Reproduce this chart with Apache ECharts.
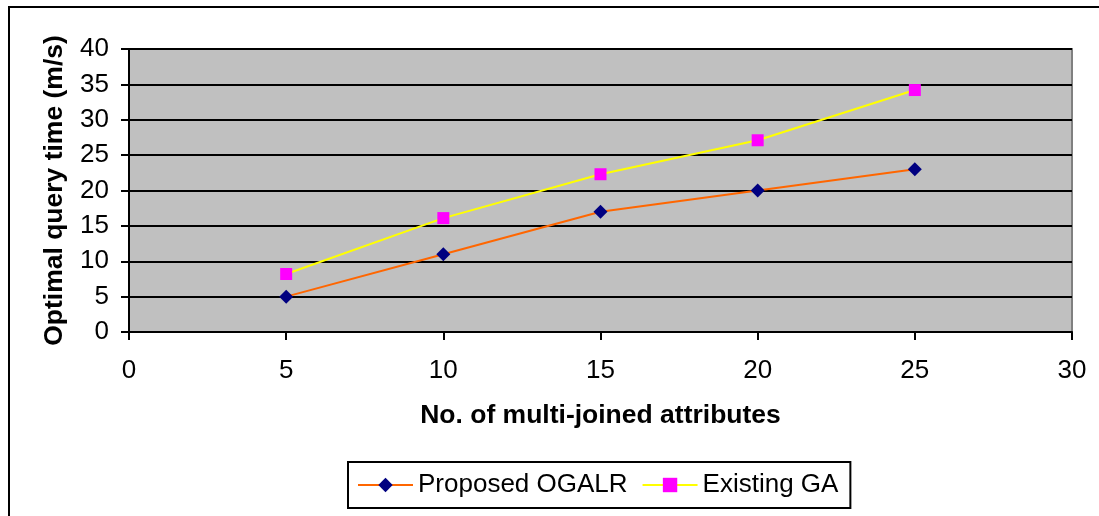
<!DOCTYPE html>
<html>
<head>
<meta charset="utf-8">
<script src="https://cdn.jsdelivr.net/npm/echarts@6/dist/echarts.min.js"></script>
<style>
  html, body { margin: 0; padding: 0; background: #ffffff; }
  #chart { width: 1099px; height: 516px; }
</style>
</head>
<body>
<div id="chart"></div>
<script>
// Number of multi-joined attributes (x values)
const attributes = [5, 10, 15, 20, 25];
// Optimal query time (m/s) per method
const proposedOGALR = [5, 11, 17, 20, 23];
const existingGA = [8.2, 16.1, 22.3, 27.1, 34.2];

const seriesNames = ['Proposed OGALR', 'Existing GA'];
const xAxisTitle = 'No. of multi-joined attributes';
const yAxisTitle = 'Optimal query time (m/s)';

const font = "'Liberation Sans', Arial, sans-serif";

const chart = echarts.init(document.getElementById('chart'), null, { renderer: 'canvas' });

const pairs = (xs, ys) => xs.map((x, i) => [x, ys[i]]);

chart.setOption({
  animation: false,
  backgroundColor: '#ffffff',
  textStyle: { fontFamily: font },
  graphic: [{
    type: 'rect',
    shape: { x: 9, y: 7, width: 1200, height: 600 },
    style: { fill: 'none', stroke: '#000000', lineWidth: 2 },
    silent: true
  }],
  grid: {
    left: 129, right: 27, top: 49, bottom: 184,
    show: true,
    backgroundColor: '#C0C0C0',
    borderColor: '#808080',
    borderWidth: 2
  },
  xAxis: {
    type: 'value',
    min: 0, max: 30, interval: 5,
    name: xAxisTitle,
    nameLocation: 'middle',
    nameGap: 70,
    nameTextStyle: { fontFamily: font, fontSize: 26.5, fontWeight: 'bold', color: '#000000' },
    axisLine: { show: true, onZero: false, lineStyle: { color: '#000000', width: 2 } },
    axisTick: { show: true, inside: false, length: 8, lineStyle: { color: '#000000', width: 2 } },
    axisLabel: { fontFamily: font, fontSize: 26, color: '#000000', margin: 26 },
    splitLine: { show: false }
  },
  yAxis: {
    type: 'value',
    min: 0, max: 40, interval: 5,
    name: yAxisTitle,
    nameLocation: 'middle',
    nameGap: 61,
    nameRotate: 90,
    nameTextStyle: { fontFamily: font, fontSize: 26.5, fontWeight: 'bold', color: '#000000' },
    axisLine: { show: true, lineStyle: { color: '#000000', width: 2 } },
    axisTick: { show: true, inside: false, length: 8, lineStyle: { color: '#000000', width: 2 } },
    axisLabel: { fontFamily: font, fontSize: 26, color: '#000000', margin: 20 },
    splitLine: { show: true, lineStyle: { color: '#000000', width: 2 } }
  },
  legend: {
    left: 348,
    top: 462,
    orient: 'horizontal',
    data: seriesNames,
    borderColor: '#000000',
    borderWidth: 2,
    padding: [10, 12, 10, 9],
    itemWidth: 55,
    itemHeight: 18,
    itemGap: 14,
    textStyle: { fontFamily: font, fontSize: 26, color: '#000000' }
  },
  series: [
    {
      name: seriesNames[0],
      type: 'line',
      data: pairs(attributes, proposedOGALR),
      symbol: 'diamond',
      symbolSize: 14,
      lineStyle: { color: '#FF6600', width: 2 },
      itemStyle: { color: '#000080' },
      z: 3
    },
    {
      name: seriesNames[1],
      type: 'line',
      data: pairs(attributes, existingGA),
      symbol: 'rect',
      symbolSize: 12,
      lineStyle: { color: '#FFFF00', width: 2 },
      itemStyle: { color: '#FF00FF' },
      z: 3
    }
  ]
});
</script>
</body>
</html>
